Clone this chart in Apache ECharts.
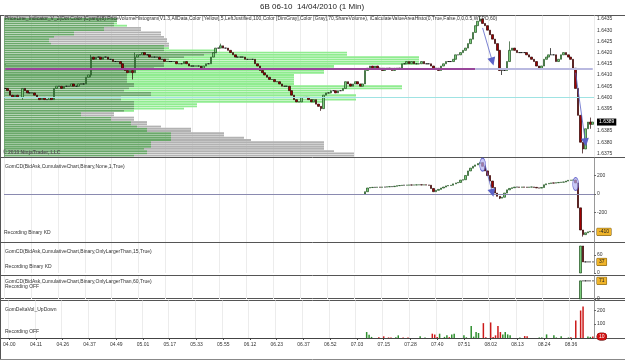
<!DOCTYPE html>
<html>
<head>
<meta charset="utf-8">
<script src="https://cdn.jsdelivr.net/npm/echarts@6/dist/echarts.min.js"></script>
<style>
html,body{margin:0;padding:0;background:#fff}
#chart{width:625px;height:361px}
</style>
</head>
<body>
<div id="chart"></div>
<script>
const fontFamily = 'Liberation Sans, Arial, sans-serif';

// time axis: one label every 11 one-minute bars
const timeLabels = ['04.00','04.11','04.26','04.37','04.49','05.01','05.17','05.33','05.55','06.12','06.23',
  '06.37','06.52','07.03','07.15','07.28','07.40','07.51','08.02','08.13','08.24','08.36'];
const barsPerLabel = 11;
const barCount = 241;
const barIndex = Array.from({length: barCount}, (_, i) => i);

// 6B closes per bar (open = previous close)
const closes = [
  1.6404,1.6403,1.6401,1.6400,1.6401,1.6400,1.6400,1.6404,1.6403,1.6402,1.6402,
  1.6402,1.6401,1.6400,1.6399,1.6400,1.6399,1.6399,1.6400,1.6399,1.6404,1.6405,
  1.6405,1.6404,1.6405,1.6405,1.6405,1.6406,1.6405,1.6405,1.6406,1.6406,1.6406,
  1.6409,1.6410,1.6418,1.6417,1.6418,1.6418,1.6417,1.6418,1.6418,1.6417,1.6417,
  1.6416,1.6416,1.6416,1.6415,1.6413,1.6412,1.6411,1.6412,1.6411,1.6418,1.6419,
  1.6419,1.6420,1.6419,1.6419,1.6418,1.6418,1.6418,1.6418,1.6417,1.6417,1.6416,
  1.6416,1.6416,1.6416,1.6416,1.6415,1.6415,1.6415,1.6416,1.6415,1.6414,1.6414,
  1.6414,1.6414,1.6414,1.6413,1.6414,1.6415,1.6415,1.6418,1.6420,1.6422,1.6422,
  1.6423,1.6422,1.6422,1.6421,1.6420,1.6419,1.6418,1.6418,1.6418,1.6418,1.6417,
  1.6417,1.6417,1.6417,1.6415,1.6414,1.6412,1.6411,1.6410,1.6409,1.6408,1.6408,
  1.6407,1.6407,1.6406,1.6405,1.6405,1.6405,1.6403,1.6401,1.6399,1.6398,1.6398,
  1.6400,1.6400,1.6400,1.6399,1.6398,1.6399,1.6397,1.6396,1.6395,1.6401,1.6402,
  1.6402,1.6403,1.6403,1.6402,1.6403,1.6403,1.6404,1.6407,1.6406,1.6405,1.6406,
  1.6407,1.6406,1.6405,1.6406,1.6412,1.6413,1.6414,1.6413,1.6414,1.6413,1.6413,
  1.6412,1.6413,1.6413,1.6413,1.6412,1.6413,1.6413,1.6413,1.6415,1.6415,1.6416,
  1.6415,1.6416,1.6415,1.6415,1.6415,1.6416,1.6415,1.6415,1.6415,1.6414,1.6413,
  1.6413,1.6412,1.6414,1.6415,1.6416,1.6416,1.6416,1.6417,1.6419,1.6419,1.6420,
  1.6421,1.6422,1.6424,1.6426,1.6429,1.6432,1.6434,1.6435,1.6433,1.6432,1.6430,
  1.6428,1.6426,1.6424,1.6421,1.6412,1.6412,1.6412,1.6416,1.6421,1.6422,1.6421,
  1.6420,1.6420,1.6420,1.6420,1.6419,1.6418,1.6417,1.6416,1.6414,1.6413,1.6414,
  1.6417,1.6418,1.6419,1.6419,1.6419,1.6416,1.6417,1.6419,1.6420,1.6419,1.6418,
  1.6417,1.6413,1.6404,1.6392,1.6380,1.6377,1.6386,1.6389,1.6388,1.6389
];
// [bar, high, low] for the longer wicks
const priceWicks = [[7,1.6404,1.6399],[20,1.6404,1.6399],[33,1.6409,1.6406],[35,1.6419,1.6409],
  [52,1.6412,1.6408],[53,1.6420,1.6411],[88,1.6424,1.6422],[129,1.6396,1.6394],[194,1.6436,1.6434],
  [203,1.6412,1.6410],[206,1.6425,1.6416],[223,1.6422,1.6419],[236,1.6380,1.6375],[239,1.6391,1.6386]];
const priceTicks = [1.6375,1.6380,1.6385,1.6395,1.6400,1.6405,1.6410,1.6415,1.6420,1.6425,1.6430,1.6435];
const pocPrice = 1.6413;
const pocEndBar = 192;
const priceArrows = [[[194.5,1.6431],[199.3,1.6416]],[[232.6,1.6411],[236.6,1.6380]]];

// volume profile rows, top (1.6436) to bottom (1.6374)
const histPrices = ['1.6436','1.6435','1.6434','1.6433','1.6432','1.6431','1.6430','1.6429','1.6428','1.6427','1.6426',
  '1.6425','1.6424','1.6423','1.6422','1.6421','1.6420','1.6419','1.6418','1.6417','1.6416','1.6415','1.6414','1.6413',
  '1.6412','1.6411','1.6410','1.6409','1.6408','1.6407','1.6406','1.6405','1.6404','1.6403','1.6402','1.6401','1.6400',
  '1.6399','1.6398','1.6397','1.6396','1.6395','1.6394','1.6393','1.6392','1.6391','1.6390','1.6389','1.6388','1.6387',
  '1.6386','1.6385','1.6384','1.6383','1.6382','1.6381','1.6380','1.6379','1.6378','1.6377','1.6376','1.6375','1.6374'];
const histGreen = [0,113,113,113,123,100,100,70,70,50,45,45,47,160,165,213,343,343,415,415,415,415,330,330,
  320,320,290,290,290,290,290,398,398,327,327,352,352,352,320,193,193,180,130,77,77,107,107,127,127,133,
  143,143,167,167,167,167,147,147,147,140,143,143,130];
const histGray = [113,113,113,110,110,137,137,157,157,160,163,163,165,165,160,160,213,200,180,165,160,160,160,150,
  123,123,123,123,123,123,130,130,125,120,147,147,117,117,130,130,130,130,120,110,110,130,130,143,143,157,
  187,187,220,220,240,247,320,320,320,320,330,350,350];

// GomCD cumulative delta, from bar 147
const cdStart = 147;
const cdCloses = [25,65,70,72,72,74,73,75,75,78,80,80,84,90,92,95,95,96,98,97,98,99,100,98,99,97,95,60,25,40,
  50,65,75,88,92,95,110,120,125,150,155,200,250,280,300,315,330,340,300,250,200,140,70,10,-25,-45,-35,10,45,60,
  68,75,75,73,76,74,72,75,76,72,66,64,70,100,110,115,120,118,122,125,128,130,140,148,150,152,120,-150,-390,-440,
  -420,-410,-405,-410];
const cdWicks = [[202,-25,-55],[236,-390,-462]];
const cdTicks = [-200,0,200];
const cdEllipses = [[195,318],[233,108]];
const cdArrows = [[[195.6,318],[199.3,12]]];

// GomCD OnlyLargerThan 15 / 60
const big15Start = 235;
const big15Closes = [90,37,37,37,37,37];
const big60Start = 235;
const big60Closes = [71,71,71,71,71,71];

// GomDeltaVol_UpDown [bar, volume]
const volUp = [[147,43],[148,24],[149,8],[159,6],[160,19],[169,12],[171,4],[177,31],[179,8],[180,19],[182,26],
  [183,31],[187,19],[188,5],[190,86],[191,10],[192,43],[193,36],[203,26],[204,43],[205,26],[206,19],[210,4],
  [218,4],[219,4],[221,26],[224,19],[225,4],[227,12],[230,4],[238,10],[239,8]];
const volDown = [[152,5],[154,12],[156,4],[157,4],[162,4],[164,4],[174,31],[175,25],[176,8],[181,6],[195,107],
  [196,5],[198,112],[199,8],[200,19],[201,86],[202,43],[212,14],[213,12],[231,5],[233,126],[235,198],[236,226],[240,10]];

function buildCandles(start, list, firstOpen, wicks) {
  let prev = firstOpen;
  return list.map((c, k) => {
    const i = start + k;
    let hi = Math.max(prev, c), lo = Math.min(prev, c);
    const w = wicks.find(x => x[0] === i);
    if (w) { hi = Math.max(hi, w[1]); lo = Math.min(lo, w[2]); }
    const item = [i, prev, c, lo, hi];
    prev = c;
    return item;
  });
}

const priceCandles = buildCandles(0, closes, closes[0], priceWicks);
const cdCandles = buildCandles(cdStart, cdCloses, 0, cdWicks);
const big15Candles = buildCandles(big15Start, big15Closes, 0, []);
const big60Candles = buildCandles(big60Start, big60Closes, 0, []);
const lastPrice = closes[closes.length - 1];
const lastCd = cdCloses[cdCloses.length - 1];
const lastVol = volDown[volDown.length - 1][1];

const histCore = histGreen.map((g, i) => Math.min(g, histGray[i]));
const histExtra = histGreen.map((g, i) => ({
  value: Math.abs(g - histGray[i]),
  itemStyle: {color: g > histGray[i] ? '#90ec90' : '#b2b2b2'}
}));

function timeAxis(gridIndex, withLabels) {
  return {
    type: 'category', gridIndex: gridIndex, data: barIndex,
    axisLine: {show: withLabels, lineStyle: {color: '#444'}},
    axisTick: {show: withLabels, interval: barsPerLabel - 1, alignWithLabel: true, length: 2, lineStyle: {color: '#444'}},
    axisLabel: {show: withLabels, interval: barsPerLabel - 1, fontSize: 5, color: '#333', margin: 4, fontFamily: fontFamily,
      formatter: (v, i) => timeLabels[i / barsPerLabel] || ''},
    splitLine: {show: true, interval: barsPerLabel - 1, lineStyle: {color: '#ececec'}}
  };
}

const tagOrange = {backgroundColor: '#f0b429', borderColor: '#6b4c00', borderWidth: 0.5, color: '#222', padding: [1, 2], fontSize: 5, fontFamily: fontFamily};

function valueAxis(gridIndex, min, max, ticks, last, fmt, tag) {
  return {
    type: 'value', gridIndex: gridIndex, position: 'right', min: min, max: max,
    axisLine: {show: true, lineStyle: {color: '#999'}},
    axisTick: {show: true, length: 2, customValues: ticks, lineStyle: {color: '#666'}},
    axisLabel: {
      fontSize: 5, color: '#333', margin: 3, fontFamily: fontFamily,
      customValues: ticks.concat([last]),
      formatter: v => Math.abs(v - last) < 1e-8 ? '{tag|' + fmt(v) + '}' : fmt(v),
      rich: {tag: tag}
    },
    splitLine: {show: false}
  };
}

const candleStyle = {
  color: '#7ccc7c', color0: '#a00000',
  borderColor: '#1d4d1d', borderColor0: '#2a0000',
  borderColorDoji: '#000', colorDoji: '#000', borderWidth: 0.7
};

const titleText = (text, left, top, extra) => Object.assign({
  text: text, left: left, top: top, padding: 0,
  textStyle: {fontSize: 5, fontWeight: 'normal', color: '#333', fontFamily: fontFamily}
}, extra || {});

const chart = echarts.init(document.getElementById('chart'));
chart.setOption({
  animation: false,
  backgroundColor: '#fff',
  title: [
    titleText('6B 06-10  14/04/2010 (1 Min)', 260, 3, {textStyle: {fontSize: 8, fontWeight: 'normal', color: '#222', fontFamily: fontFamily}}),
    titleText('PriceLine_Indicator_V_2(Dot Color [Cyan])(8) PriceVolumeHistogram(V1.3,AllData,Color [Yellow],5,LeftJustified,100,Color [DimGray],Color [Gray],70,ShareVolume), iCalculateValueAreaHisto(0,True,False,0,0,0.5,WTPO,60)', 5, 16),
    titleText('© 2010 NinjaTrader, LLC', 3, 150, {textStyle: {fontSize: 5, color: '#555', fontFamily: fontFamily}}),
    titleText('GomCD(BidAsk,CumulativeChart,Binary,None,1,True)', 5, 164),
    titleText('Recording Binary KD', 4, 230),
    titleText('GomCD(BidAsk,CumulativeChart,Binary,OnlyLargerThan,15,True)', 5, 249),
    titleText('Recording Binary KD', 5, 264),
    titleText('GomCD(BidAsk,CumulativeChart,Binary,OnlyLargerThan,60,True)', 5, 279),
    titleText('Recording OFF', 5, 284),
    titleText('GomDeltaVol_UpDown', 5, 307),
    titleText('Recording OFF', 5, 329)
  ],
  grid: [
    {left: 4, right: 31, top: 15.6, height: 141.2},
    {left: 4, right: 31, top: 158, height: 84},
    {left: 4, right: 31, top: 243, height: 30},
    {left: 4, right: 31, top: 276, height: 23},
    {left: 4, right: 31, top: 300.5, height: 37.5}
  ],
  xAxis: [
    timeAxis(0, false),
    {type: 'value', gridIndex: 0, min: 0, max: 590, show: false},
    timeAxis(1, false),
    timeAxis(2, false),
    timeAxis(3, false),
    timeAxis(4, true)
  ],
  yAxis: [
    valueAxis(0, 1.63735, 1.64365, priceTicks, lastPrice, v => v.toFixed(4),
      {backgroundColor: '#000', color: '#fff', padding: [1, 2], fontSize: 5, fontFamily: fontFamily}),
    {type: 'category', gridIndex: 0, data: histPrices, inverse: true, show: false},
    valueAxis(1, -520, 390, cdTicks, lastCd, v => String(v), tagOrange),
    valueAxis(2, 0, 100, [0, 60], big15Closes[big15Closes.length - 1], v => String(v), tagOrange),
    valueAxis(3, 0, 90, [0], big60Closes[big60Closes.length - 1], v => String(v), tagOrange),
    valueAxis(4, 0, 270, [100, 200], lastVol, v => String(v),
      {backgroundColor: '#d01010', borderColor: '#600', borderWidth: 0.5, borderRadius: 3, color: '#fff', padding: [1, 2], fontSize: 5, fontFamily: fontFamily})
  ],
  series: [
    {type: 'bar', xAxisIndex: 1, yAxisIndex: 1, stack: 'hist', barWidth: '82%', silent: true,
      itemStyle: {color: '#6aa86a'}, data: histCore},
    {type: 'bar', xAxisIndex: 1, yAxisIndex: 1, stack: 'hist', barWidth: '82%', silent: true, data: histExtra},
    {type: 'line', xAxisIndex: 0, yAxisIndex: 0, data: [], silent: true,
      markLine: {silent: true, symbol: ['none', 'none'], label: {show: false}, animation: false,
        data: [
          {yAxis: lastPrice, lineStyle: {color: '#9fe3e3', width: 1, type: 'solid'}},
          [{coord: [0, pocPrice], lineStyle: {color: '#98469a', width: 2, type: 'solid'}}, {coord: [pocEndBar, pocPrice]}],
          [{coord: [pocEndBar, pocPrice], lineStyle: {color: '#b9b9e0', width: 2, type: 'solid'}}, {coord: [barCount - 1, pocPrice]}]
        ]}},
    {type: 'candlestick', xAxisIndex: 0, yAxisIndex: 0, barWidth: 2.1, encode: {x: 0, y: [1, 2, 3, 4]},
      itemStyle: candleStyle, data: priceCandles,
      markLine: {silent: true, symbol: ['none', 'none'], label: {show: false}, animation: false,
        lineStyle: {color: '#5b63c8', width: 0.8, type: 'solid'},
        data: priceArrows.map(a => [{coord: a[0]}, {coord: a[1], symbol: 'triangle', symbolSize: 8, itemStyle: {color: '#1f2fe0'}}])}},
    {type: 'candlestick', xAxisIndex: 2, yAxisIndex: 2, barWidth: 1.8, encode: {x: 0, y: [1, 2, 3, 4]},
      itemStyle: candleStyle, data: cdCandles,
      markLine: {silent: true, symbol: ['none', 'none'], label: {show: false}, animation: false,
        data: [
          {yAxis: 0, lineStyle: {color: '#8a8ab0', width: 1, type: 'solid'}}
        ].concat(cdArrows.map(a => [{coord: a[0], lineStyle: {color: '#5b63c8', width: 0.8, type: 'solid'}},
          {coord: a[1], symbol: 'triangle', symbolSize: 8, itemStyle: {color: '#1f2fe0'}}]))}},
    {type: 'scatter', xAxisIndex: 2, yAxisIndex: 2, symbol: 'circle', symbolSize: [6, 13], silent: true,
      itemStyle: {color: 'rgba(175,175,240,0.85)', borderColor: '#4a4ac0', borderWidth: 0.8}, data: cdEllipses},
    {type: 'candlestick', xAxisIndex: 3, yAxisIndex: 3, barWidth: 1.8, encode: {x: 0, y: [1, 2, 3, 4]},
      itemStyle: candleStyle, data: big15Candles},
    {type: 'candlestick', xAxisIndex: 4, yAxisIndex: 4, barWidth: 1.8, encode: {x: 0, y: [1, 2, 3, 4]},
      itemStyle: candleStyle, data: big60Candles},
    {type: 'bar', xAxisIndex: 5, yAxisIndex: 5, barWidth: 1.5, barGap: '-100%', silent: true,
      itemStyle: {color: '#2f8f2f'}, data: volUp},
    {type: 'bar', xAxisIndex: 5, yAxisIndex: 5, barWidth: 1.5, barGap: '-100%', silent: true,
      itemStyle: {color: '#cc1a1a'}, data: volDown}
  ],
  graphic: [
    {type: 'line', shape: {x1: 0, y1: 15.5, x2: 625, y2: 15.5}, style: {stroke: '#555', lineWidth: 1}, silent: true},
    {type: 'line', shape: {x1: 0, y1: 157.5, x2: 625, y2: 157.5}, style: {stroke: '#555', lineWidth: 1}, silent: true},
    {type: 'line', shape: {x1: 0, y1: 242.5, x2: 625, y2: 242.5}, style: {stroke: '#555', lineWidth: 1}, silent: true},
    {type: 'line', shape: {x1: 0, y1: 275.5, x2: 625, y2: 275.5}, style: {stroke: '#555', lineWidth: 1}, silent: true},
    {type: 'line', shape: {x1: 0, y1: 298.5, x2: 625, y2: 298.5}, style: {stroke: '#555', lineWidth: 1}, silent: true},
    {type: 'line', shape: {x1: 0, y1: 300.5, x2: 625, y2: 300.5}, style: {stroke: '#555', lineWidth: 1}, silent: true},
    {type: 'line', shape: {x1: 0, y1: 338.5, x2: 625, y2: 338.5}, style: {stroke: '#555', lineWidth: 1}, silent: true},
    {type: 'line', shape: {x1: 0.5, y1: 15, x2: 0.5, y2: 360}, style: {stroke: '#555', lineWidth: 1}, silent: true},
    {type: 'line', shape: {x1: 0, y1: 359.5, x2: 625, y2: 359.5}, style: {stroke: '#888', lineWidth: 1}, silent: true}
  ]
});
</script>
</body>
</html>
